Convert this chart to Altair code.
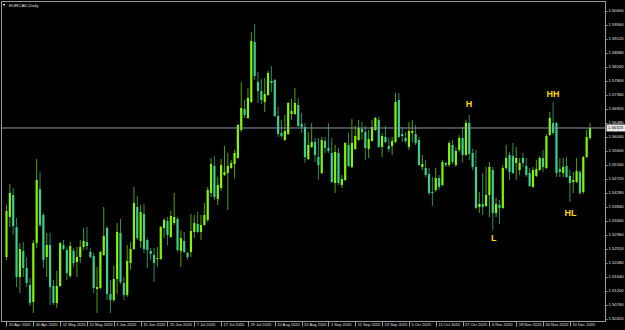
import altair as alt
import pandas as pd

# ---------------- data ----------------
opens = [1.52269, 1.53526, 1.54217, 1.53212, 1.51640, 1.52457, 1.51923, 1.51389, 1.50854, 1.52709,
         1.54406, 1.53589, 1.52269, 1.52646, 1.51357, 1.50823, 1.51357, 1.52646, 1.52489, 1.51672,
         1.52457, 1.52112, 1.52269, 1.52583, 1.52740, 1.52426, 1.52300, 1.51263, 1.51294, 1.52332,
         1.53180, 1.51106, 1.50917, 1.51577, 1.53023, 1.51452, 1.51074, 1.52080, 1.52520, 1.53840,
         1.52772, 1.53620, 1.52803, 1.52457, 1.52332, 1.52206, 1.52206, 1.53180, 1.53400, 1.52897,
         1.53337, 1.53463, 1.52457, 1.52772, 1.52395, 1.52426, 1.53055, 1.53306, 1.53055, 1.53275,
         1.53432, 1.54280, 1.55129, 1.54092, 1.54437, 1.54846, 1.54909, 1.55066, 1.55192, 1.55380,
         1.56260, 1.56920, 1.56637, 1.57140, 1.59026, 1.57769, 1.57486, 1.57140, 1.57360, 1.57800,
         1.57832, 1.56700, 1.56166, 1.55946, 1.56135, 1.56763, 1.56763, 1.57046, 1.56449, 1.56355,
         1.55349, 1.55726, 1.55883, 1.55412, 1.54909, 1.55915, 1.55695, 1.55537, 1.54595, 1.55537,
         1.54532, 1.54689, 1.55789, 1.55097, 1.55663, 1.55946, 1.56292, 1.56197, 1.55663, 1.55915,
         1.56260, 1.56575, 1.55726, 1.56040, 1.55757, 1.55757, 1.55883, 1.57203, 1.56135, 1.56009,
         1.55726, 1.56166, 1.56135, 1.55946, 1.55097, 1.55066, 1.54877, 1.54312, 1.54375, 1.54752,
         1.54532, 1.55223, 1.55160, 1.55789, 1.55160, 1.55632, 1.56009, 1.55475, 1.56480, 1.55537,
         1.55097, 1.53840, 1.53935, 1.53872, 1.54217, 1.55003, 1.53652, 1.53903, 1.53809, 1.55066,
         1.55475, 1.55443, 1.55223, 1.55003, 1.55380, 1.55129, 1.54909, 1.54469, 1.54815, 1.55003,
         1.55380, 1.55066, 1.56103, 1.56480, 1.56480, 1.55035, 1.54909, 1.55129, 1.54815, 1.54626,
         1.54626, 1.54940, 1.54312, 1.55412, 1.56009]
highs = [1.53903, 1.54563, 1.54437, 1.53495, 1.52709, 1.52740, 1.52269, 1.51609, 1.52803, 1.55349,
         1.54940, 1.53652, 1.53023, 1.53023, 1.51546, 1.51829, 1.52740, 1.52803, 1.52583, 1.52740,
         1.52552, 1.52583, 1.52803, 1.53180, 1.53212, 1.52552, 1.52395, 1.51954, 1.52457, 1.53840,
         1.53243, 1.51546, 1.51986, 1.53337, 1.53463, 1.51640, 1.52646, 1.52740, 1.54469, 1.54186,
         1.53903, 1.53935, 1.52866, 1.52552, 1.52552, 1.52583, 1.53243, 1.53495, 1.53526, 1.53715,
         1.54280, 1.53526, 1.53117, 1.53055, 1.52426, 1.53620, 1.53589, 1.53683, 1.53589, 1.53966,
         1.54469, 1.55380, 1.55443, 1.54783, 1.55349, 1.55757, 1.55537, 1.55317, 1.55632, 1.56449,
         1.57769, 1.57203, 1.57580, 1.59340, 1.59592, 1.58083, 1.57863, 1.57895, 1.58115, 1.58272,
         1.57863, 1.56983, 1.56575, 1.56732, 1.57140, 1.57235, 1.57580, 1.57266, 1.56795, 1.56480,
         1.56197, 1.56480, 1.56009, 1.56009, 1.56040, 1.56040, 1.56480, 1.56009, 1.55789, 1.55695,
         1.54846, 1.55883, 1.56166, 1.56606, 1.56386, 1.56575, 1.56512, 1.56386, 1.56260, 1.56575,
         1.56669, 1.56669, 1.56166, 1.56386, 1.56009, 1.56040, 1.57423, 1.57423, 1.56355, 1.56197,
         1.56512, 1.56575, 1.56417, 1.56040, 1.55475, 1.55317, 1.55066, 1.54783, 1.55066, 1.54846,
         1.55317, 1.55255, 1.55915, 1.55946, 1.55726, 1.56103, 1.56355, 1.56575, 1.56732, 1.55663,
         1.55632, 1.54312, 1.54909, 1.55097, 1.55255, 1.55097, 1.54123, 1.54060, 1.55160, 1.55789,
         1.55569, 1.55852, 1.55726, 1.55380, 1.55537, 1.55380, 1.55066, 1.55097, 1.55317, 1.55443,
         1.55632, 1.56135, 1.56826, 1.57140, 1.56512, 1.55380, 1.55380, 1.55412, 1.55003, 1.54940,
         1.55380, 1.55003, 1.55443, 1.56260, 1.56480]
lows = [1.52175, 1.53212, 1.52960, 1.51326, 1.51137, 1.51640, 1.51326, 1.50729, 1.50509, 1.52552,
        1.53212, 1.51923, 1.51640, 1.50760, 1.50760, 1.50666, 1.51326, 1.52489, 1.51546, 1.51609,
        1.51954, 1.51640, 1.52080, 1.52489, 1.52489, 1.52237, 1.51137, 1.50509, 1.51263, 1.52300,
        1.50917, 1.50509, 1.50854, 1.51106, 1.51420, 1.50917, 1.51012, 1.51860, 1.52489, 1.52803,
        1.52552, 1.52395, 1.51923, 1.52175, 1.51483, 1.51954, 1.52175, 1.52866, 1.52646, 1.52866,
        1.53275, 1.52426, 1.51954, 1.52395, 1.52175, 1.52269, 1.52866, 1.53023, 1.52803, 1.53243,
        1.53369, 1.54155, 1.54060, 1.53903, 1.54343, 1.54815, 1.53746, 1.55035, 1.54752, 1.55349,
        1.56197, 1.56637, 1.56606, 1.57109, 1.57832, 1.57109, 1.57077, 1.56826, 1.57329, 1.57455,
        1.56669, 1.56040, 1.56009, 1.55915, 1.56103, 1.56575, 1.56732, 1.56355, 1.56166, 1.55223,
        1.55317, 1.55695, 1.55255, 1.54689, 1.54877, 1.55537, 1.55537, 1.54595, 1.54280, 1.54532,
        1.54437, 1.54657, 1.55097, 1.55066, 1.55632, 1.55915, 1.55946, 1.55317, 1.55380, 1.55883,
        1.56229, 1.55695, 1.55412, 1.55852, 1.55569, 1.55475, 1.55852, 1.56009, 1.55883, 1.55852,
        1.55632, 1.55883, 1.55789, 1.55129, 1.55003, 1.54783, 1.54217, 1.53872, 1.54312, 1.54375,
        1.54500, 1.55097, 1.55097, 1.55192, 1.55097, 1.55569, 1.55255, 1.55443, 1.55317, 1.55003,
        1.53777, 1.53652, 1.53589, 1.53840, 1.53526, 1.53117, 1.53526, 1.53306, 1.53777, 1.55003,
        1.54689, 1.54877, 1.54689, 1.54846, 1.55097, 1.54783, 1.54469, 1.54437, 1.54783, 1.54972,
        1.54940, 1.55035, 1.56072, 1.56103, 1.54783, 1.54783, 1.54783, 1.54752, 1.53997, 1.54280,
        1.54595, 1.54217, 1.54249, 1.55380, 1.55946]
closes = [1.53715, 1.54280, 1.53243, 1.51640, 1.52520, 1.51923, 1.51452, 1.50823, 1.52709, 1.54689,
          1.53275, 1.52175, 1.52646, 1.51326, 1.50823, 1.51357, 1.52709, 1.52520, 1.51766, 1.52615,
          1.52080, 1.52269, 1.52583, 1.52772, 1.52615, 1.52269, 1.51294, 1.51326, 1.52426, 1.52929,
          1.51106, 1.50917, 1.51577, 1.53055, 1.51483, 1.51074, 1.52143, 1.52520, 1.53966, 1.52866,
          1.53683, 1.52520, 1.52489, 1.52363, 1.52080, 1.52237, 1.53212, 1.53432, 1.52960, 1.53557,
          1.53526, 1.52489, 1.52866, 1.52426, 1.52269, 1.53086, 1.53337, 1.53055, 1.53275, 1.53589,
          1.54375, 1.55192, 1.54155, 1.54532, 1.55160, 1.54940, 1.55129, 1.55223, 1.55537, 1.56417,
          1.56952, 1.56732, 1.57266, 1.59057, 1.57957, 1.57486, 1.57203, 1.57392, 1.58052, 1.57737,
          1.56700, 1.56135, 1.56072, 1.56229, 1.57109, 1.56857, 1.57109, 1.56386, 1.56355, 1.55412,
          1.55789, 1.55883, 1.55475, 1.55160, 1.55946, 1.55695, 1.55600, 1.54626, 1.55569, 1.54595,
          1.54720, 1.55852, 1.55129, 1.55852, 1.56072, 1.56323, 1.56197, 1.55695, 1.55977, 1.56355,
          1.56637, 1.55726, 1.56072, 1.55883, 1.55663, 1.55915, 1.57140, 1.56040, 1.56072, 1.55915,
          1.56229, 1.56229, 1.55852, 1.55160, 1.55192, 1.54846, 1.54280, 1.54280, 1.54752, 1.54469,
          1.55255, 1.55160, 1.55852, 1.55255, 1.55600, 1.56009, 1.55475, 1.56480, 1.55506, 1.55097,
          1.53809, 1.53935, 1.53840, 1.54217, 1.55097, 1.53652, 1.53935, 1.53809, 1.55066, 1.55380,
          1.54940, 1.54909, 1.55380, 1.55223, 1.55223, 1.54846, 1.54500, 1.55003, 1.55035, 1.55380,
          1.55097, 1.56072, 1.56637, 1.56166, 1.54909, 1.54940, 1.55097, 1.54783, 1.54595, 1.54689,
          1.54972, 1.54280, 1.55412, 1.56040, 1.56323]

# date labels shown on the time axis (one every 8 daily bars)
date_labels = ["20 Apr 2020", "30 Apr 2020", "12 May 2020", "22 May 2020", "3 Jun 2020",
               "15 Jun 2020", "25 Jun 2020", "7 Jul 2020", "17 Jul 2020", "29 Jul 2020",
               "10 Aug 2020", "20 Aug 2020", "1 Sep 2020", "11 Sep 2020", "23 Sep 2020",
               "5 Oct 2020", "15 Oct 2020", "27 Oct 2020", "6 Nov 2020", "18 Nov 2020",
               "30 Nov 2020", "10 Dec 2020"]
date_label_bars = [0, 8, 16, 24, 32, 40, 48, 56, 64, 72, 80, 88, 96, 104, 112, 120,
                   128, 136, 144, 152, 160, 168]

price_ticks = [1.50320, 1.50760, 1.51200, 1.51640, 1.52080, 1.52520, 1.52960, 1.53400,
               1.53840, 1.54280, 1.54720, 1.55160, 1.55600, 1.56040, 1.56480, 1.56920,
               1.57360, 1.57800, 1.58240, 1.58680, 1.59120, 1.59560, 1.60000]

last_price = 1.56323

ann_text = ["H", "HH", "L", "HL"]
ann_bar = [137.9, 163.0, 145.3, 168.2]
ann_price = [1.57077, 1.57392, 1.52866, 1.53652]

symbol_title = "EURCAD,Daily"

# ---------------- chart ----------------
BULL = "#84f500"
BEAR = "#3ccf8e"
BULL_WICK = "#5a9c00"
BEAR_WICK = "#2a8a60"
FG = "#e0e0e0"
FRAME = "#9a9a9a"
SMALL_FONT = "Liberation Sans"

df = pd.DataFrame({"bar": list(range(len(opens))), "open": opens, "high": highs,
                   "low": lows, "close": closes})

xscale = alt.Scale(domain=[-0.147, 176.98], nice=False, zero=False)
yscale = alt.Scale(domain=[1.50257, 1.60314], nice=False, zero=False)

label_str = "|".join(date_labels)

x_axis = alt.Axis(values=date_label_bars, labelExpr=f"split('{label_str}', '|')[round(datum.value/8)]",
                  orient="bottom", grid=False, domainColor=FRAME, tickColor=FRAME, tickSize=5,
                  labelColor=FG, labelFontSize=4, labelFont=SMALL_FONT, labelAlign="left",
                  labelBaseline="top", labelPadding=-4, labelOffset=2, labelFlush=False,
                  labelOverlap=False, title=None)
y_axis = alt.Axis(values=price_ticks, format=".5f", orient="right", grid=False,
                  domainColor=FRAME, tickColor=FRAME, tickSize=2, labelColor=FG,
                  labelFontSize=4.2, labelFont=SMALL_FONT, labelPadding=1,
                  labelFlush=False, labelOverlap=False, title=None)

bull_cond = "datum.close >= datum.open"

wicks = alt.Chart(df).mark_rule(strokeWidth=1).encode(
    x=alt.X("bar:Q", scale=xscale, axis=x_axis),
    y=alt.Y("low:Q", scale=yscale, axis=y_axis),
    y2="high:Q",
    color=alt.condition(bull_cond, alt.value(BULL_WICK), alt.value(BEAR_WICK)),
)

bodies = alt.Chart(df).mark_bar(size=2.2).encode(
    x=alt.X("bar:Q", scale=xscale, axis=x_axis),
    y=alt.Y("open:Q", scale=yscale, axis=y_axis),
    y2="close:Q",
    color=alt.condition(bull_cond, alt.value(BULL), alt.value(BEAR)),
)

price_df = pd.DataFrame({"price": [last_price], "label": [f"{last_price:.5f}"]})
price_line = alt.Chart(price_df).mark_rule(color="#8a94a6", strokeWidth=1).encode(
    y=alt.Y("price:Q", scale=yscale, axis=y_axis)
)
price_box = alt.Chart(price_df).mark_tick(orient="horizontal", size=19, thickness=7,
                                          color="#e8e8e8", opacity=1).encode(
    x=alt.value(615), y=alt.Y("price:Q", scale=yscale, axis=y_axis)
)
price_text = alt.Chart(price_df).mark_text(align="left", baseline="middle", fontSize=4.2,
                                           font=SMALL_FONT, color="#000000").encode(
    x=alt.value(607), y=alt.Y("price:Q", scale=yscale, axis=y_axis), text="label:N"
)

ann_df = pd.DataFrame({"bar": ann_bar, "price": ann_price, "text": ann_text})
annotations = alt.Chart(ann_df).mark_text(color="#ffd700", fontSize=9, fontWeight="bold",
                                          font="Liberation Sans", align="center",
                                          baseline="middle").encode(
    x=alt.X("bar:Q", scale=xscale, axis=x_axis),
    y=alt.Y("price:Q", scale=yscale, axis=y_axis),
    text="text:N",
)

title_df = pd.DataFrame({"t": [symbol_title]})
title_text = alt.Chart(title_df).mark_text(align="left", baseline="middle", fontSize=4.4,
                                           font=SMALL_FONT, color=FG).encode(
    x=alt.value(8), y=alt.value(5), text="t:N"
)
title_icon = alt.Chart(title_df).mark_point(shape="triangle-down", filled=True, size=6,
                                            color="#ffffff", opacity=1).encode(
    x=alt.value(3), y=alt.value(4)
)

chart = alt.layer(wicks, bodies, price_line, price_box, price_text, annotations,
                  title_text, title_icon).properties(
    width=604, height=320,
    padding={"left": 1, "top": 1, "right": 20, "bottom": 9},
    autosize=alt.AutoSizeParams(type="none"),
    background="#000000",
).configure_view(stroke=FRAME, strokeWidth=1)

chart.save("out.html", embed_options={"renderer": "svg", "actions": False})
